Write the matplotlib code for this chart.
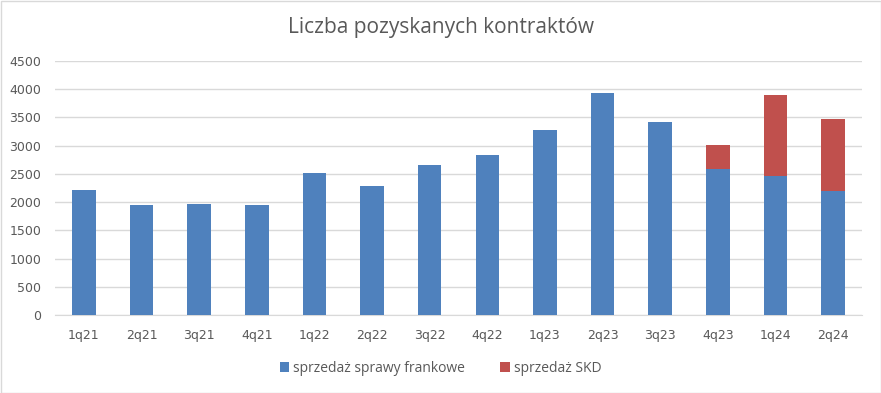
import matplotlib.pyplot as plt
import numpy as np
from matplotlib.patches import Rectangle

# data
quarters = ['1q21', '2q21', '3q21', '4q21', '1q22', '2q22', '3q22',
            '4q22', '1q23', '2q23', '3q23', '4q23', '1q24', '2q24']
frankowe = [2220, 1940, 1970, 1950, 2520, 2290, 2660,
            2840, 3280, 3940, 3420, 2580, 2470, 2200]
skd = [0, 0, 0, 0, 0, 0, 0, 0, 0, 0, 0, 440, 1430, 1280]

blue = '#4F81BD'
red = '#C0504D'
txt = '#595959'

fig = plt.figure(figsize=(8.81, 3.93), dpi=100)
ax = fig.add_axes([55/881, 1-315/393, 807/881, 254/393])

x = np.arange(len(quarters))
ax.bar(x, frankowe, width=0.41, color=blue, label='sprzedaż sprawy frankowe', zorder=3)
ax.bar(x, skd, width=0.41, bottom=frankowe, color=red, label='sprzedaż SKD', zorder=3)

ax.set_xlim(-0.5, len(quarters)-0.5)
ax.set_ylim(0, 4500)
ax.set_yticks(np.arange(0, 4501, 500))
ax.grid(axis='y', color='#D9D9D9', linewidth=1, zorder=0)

ax.set_xticks(x)
ax.set_xticklabels(quarters)
ax.tick_params(axis='x', length=0, pad=10, labelsize=9, labelcolor=txt)
ax.tick_params(axis='y', length=0, pad=10, labelsize=9, labelcolor=txt)
for lab in ax.get_xticklabels() + ax.get_yticklabels():
    lab.set_family('DejaVu Sans')

for s in ['top', 'right', 'left']:
    ax.spines[s].set_visible(False)
ax.spines['bottom'].set_color('#D9D9D9')

fig.text(0.5, 1-28/393, 'Liczba pozyskanych kontraktów', ha='center', va='center',
         fontsize=15, color=txt, family='Open Sans')

leg = fig.legend(loc='center', bbox_to_anchor=(0.5, 1-368/393), ncol=2, frameon=False,
                 handlelength=0.7, handleheight=0.7, handletextpad=0.3,
                 columnspacing=2.5, prop={'family': 'Open Sans', 'size': 10})
for t in leg.get_texts():
    t.set_color(txt)

fig.patches.append(Rectangle((0.5/881, 0.5/393), 1-1/881, 1-1/393, transform=fig.transFigure,
                             fill=False, edgecolor='#D9D9D9', linewidth=1))

fig.savefig('out.png', dpi=100)
